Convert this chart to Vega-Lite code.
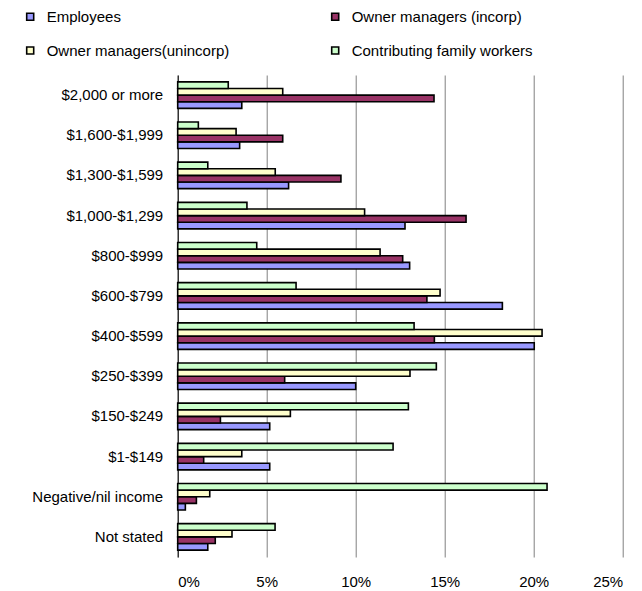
{
  "$schema": "https://vega.github.io/schema/vega-lite/v6.json",
  "autosize": {"type": "none"},
  "width": 445,
  "height": 482,
  "padding": {"left": 177.7, "top": 75, "right": 19.3, "bottom": 34},
  "background": "white",
  "config": {
    "font": "Liberation Sans",
    "view": {"stroke": null}
  },
  "data": {
    "values": [
      {"income": "$2,000 or more", "series": "Employees", "value": 3.6},
      {"income": "$2,000 or more", "series": "Owner managers (incorp)", "value": 14.4},
      {"income": "$2,000 or more", "series": "Owner managers(unincorp)", "value": 5.9},
      {"income": "$2,000 or more", "series": "Contributing family workers", "value": 2.84},
      {"income": "$1,600-$1,999", "series": "Employees", "value": 3.48},
      {"income": "$1,600-$1,999", "series": "Owner managers (incorp)", "value": 5.9},
      {"income": "$1,600-$1,999", "series": "Owner managers(unincorp)", "value": 3.28},
      {"income": "$1,600-$1,999", "series": "Contributing family workers", "value": 1.16},
      {"income": "$1,300-$1,599", "series": "Employees", "value": 6.23},
      {"income": "$1,300-$1,599", "series": "Owner managers (incorp)", "value": 9.17},
      {"income": "$1,300-$1,599", "series": "Owner managers(unincorp)", "value": 5.48},
      {"income": "$1,300-$1,599", "series": "Contributing family workers", "value": 1.69},
      {"income": "$1,000-$1,299", "series": "Employees", "value": 12.77},
      {"income": "$1,000-$1,299", "series": "Owner managers (incorp)", "value": 16.2},
      {"income": "$1,000-$1,299", "series": "Owner managers(unincorp)", "value": 10.5},
      {"income": "$1,000-$1,299", "series": "Contributing family workers", "value": 3.89},
      {"income": "$800-$999", "series": "Employees", "value": 13.03},
      {"income": "$800-$999", "series": "Owner managers (incorp)", "value": 12.64},
      {"income": "$800-$999", "series": "Owner managers(unincorp)", "value": 11.37},
      {"income": "$800-$999", "series": "Contributing family workers", "value": 4.44},
      {"income": "$600-$799", "series": "Employees", "value": 18.24},
      {"income": "$600-$799", "series": "Owner managers (incorp)", "value": 14.0},
      {"income": "$600-$799", "series": "Owner managers(unincorp)", "value": 14.74},
      {"income": "$600-$799", "series": "Contributing family workers", "value": 6.65},
      {"income": "$400-$599", "series": "Employees", "value": 20.03},
      {"income": "$400-$599", "series": "Owner managers (incorp)", "value": 14.42},
      {"income": "$400-$599", "series": "Owner managers(unincorp)", "value": 20.47},
      {"income": "$400-$599", "series": "Contributing family workers", "value": 13.28},
      {"income": "$250-$399", "series": "Employees", "value": 10.0},
      {"income": "$250-$399", "series": "Owner managers (incorp)", "value": 6.01},
      {"income": "$250-$399", "series": "Owner managers(unincorp)", "value": 13.05},
      {"income": "$250-$399", "series": "Contributing family workers", "value": 14.53},
      {"income": "$150-$249", "series": "Employees", "value": 5.17},
      {"income": "$150-$249", "series": "Owner managers (incorp)", "value": 2.4},
      {"income": "$150-$249", "series": "Owner managers(unincorp)", "value": 6.33},
      {"income": "$150-$249", "series": "Contributing family workers", "value": 12.96},
      {"income": "$1-$149", "series": "Employees", "value": 5.17},
      {"income": "$1-$149", "series": "Owner managers (incorp)", "value": 1.46},
      {"income": "$1-$149", "series": "Owner managers(unincorp)", "value": 3.6},
      {"income": "$1-$149", "series": "Contributing family workers", "value": 12.1},
      {"income": "Negative/nil income", "series": "Employees", "value": 0.43},
      {"income": "Negative/nil income", "series": "Owner managers (incorp)", "value": 1.05},
      {"income": "Negative/nil income", "series": "Owner managers(unincorp)", "value": 1.8},
      {"income": "Negative/nil income", "series": "Contributing family workers", "value": 20.75},
      {"income": "Not stated", "series": "Employees", "value": 1.69},
      {"income": "Not stated", "series": "Owner managers (incorp)", "value": 2.11},
      {"income": "Not stated", "series": "Owner managers(unincorp)", "value": 3.05},
      {"income": "Not stated", "series": "Contributing family workers", "value": 5.47}
    ]
  },
  "mark": {"type": "bar", "stroke": "black", "strokeWidth": 1.6},
  "encoding": {
    "y": {
      "field": "income",
      "type": "nominal",
      "sort": null,
      "scale": {"paddingInner": 0.34, "paddingOuter": 0.17},
      "axis": {
        "title": null,
        "domain": true,
        "domainColor": "black",
        "domainWidth": 1,
        "ticks": false,
        "grid": false,
        "labelPadding": 15,
        "labelFontSize": 15,
        "labelLimit": 300,
        "labelColor": "black",
        "labelFont": "Liberation Sans"
      }
    },
    "yOffset": {
      "field": "series",
      "type": "nominal",
      "scale": {"domain": ["Contributing family workers", "Owner managers(unincorp)", "Owner managers (incorp)", "Employees"]}
    },
    "x": {
      "field": "value",
      "type": "quantitative",
      "scale": {"domain": [0, 25], "nice": false},
      "axis": {
        "title": null,
        "values": [0, 5, 10, 15, 20, 25],
        "labelExpr": "datum.value + '%'",
        "domain": false,
        "ticks": false,
        "grid": true,
        "gridColor": "#808080",
        "gridWidth": 1,
        "labelPadding": 17,
        "labelFontSize": 15,
        "labelColor": "black",
        "labelFont": "Liberation Sans"
      }
    },
    "color": {
      "field": "series",
      "type": "nominal",
      "scale": {
        "domain": ["Employees", "Owner managers(unincorp)", "Owner managers (incorp)", "Contributing family workers"],
        "range": ["#9999FF", "#FFFFCC", "#993366", "#CCFFCC"]
      },
      "legend": {
        "title": null,
        "orient": "none",
        "legendX": -155,
        "legendY": -66,
        "columns": 2,
        "columnPadding": 98,
        "rowPadding": 18,
        "labelLimit": 400,
        "symbolType": "square",
        "symbolSize": 49,
        "symbolStrokeColor": "black",
        "symbolStrokeWidth": 1.6,
        "labelFontSize": 15,
        "labelFont": "Liberation Sans",
        "labelColor": "black",
        "labelOffset": 9
      }
    }
  }
}
